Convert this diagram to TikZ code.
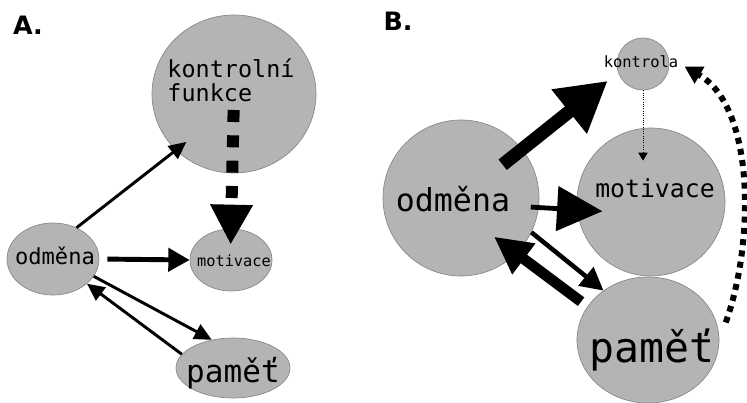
\documentclass[tikz,border=0pt]{standalone}
\usepackage{fontspec}
\setmonofont{DejaVu Sans Mono}
\setsansfont{DejaVu Sans}
\usepackage{tikz}
\usetikzlibrary{arrows.meta,calc,positioning,shapes.geometric}
\definecolor{blobgray}{RGB}{180,180,180}
\definecolor{blobedge}{RGB}{135,135,135}
\tikzset{
  blob/.style={ellipse,draw=blobedge,fill=blobgray,line width=0.5pt,inner sep=0pt},
  word/.style={inner sep=0pt,font=\ttfamily\fontsize{#1}{#1}\selectfont},
  panel/.style={inner sep=0pt,font=\sffamily\bfseries\fontsize{19}{22}\selectfont}
}

\begin{document}
\begin{tikzpicture}[x=0.75pt,y=-0.75pt]
\useasboundingbox (0,0) rectangle (747,403);

% A.
\node[panel] (labA) at (28,25) {A.};
\node[blob,minimum width=123pt,minimum height=118.5pt] (kfA) at (234,94) {};
\node[blob,minimum width=69pt,minimum height=54pt] (odA) at (53,259) {};
\node[blob,minimum width=61.5pt,minimum height=46.5pt] (movA) at (231,260) {};
\node[blob,minimum width=85.5pt,minimum height=45pt] (pamA) at (233,368) {};
\node[inner sep=0pt,align=left,font=\ttfamily\fontsize{17.6}{18}\selectfont] (kfAt) at (231,80) {kontrolní\\funkce};
\node[word=16.6] (odAt) at (55,256) {odměna};
\node[word=11.5] (movAt) at (234,261) {motivace};
\node[word=23.3] (pamAt) at (233,373) {paměť};

\draw[line width=2.2pt,-{Triangle[length=13pt,width=12pt]},shorten >=-10pt] (odA.53) -- (kfA.224);
\draw[line width=3.7pt,-{Triangle[length=16pt,width=17pt]},shorten <=6pt] (odA.east) -- (movA.west);
\draw[line width=9pt,dash pattern=on 9pt off 10pt,-{Triangle[length=30pt,width=30pt]},
      shorten <=12pt,shorten >=-12pt] (kfA.center) -- (movA.north);
\draw[line width=2.2pt,-{Triangle[length=13pt,width=12pt]}] (odA.-23) -- (pamA.127);
\draw[line width=2.2pt,-{Triangle[length=13pt,width=12pt]}] (pamA.165) -- (odA.-36);

% B.
\node[panel] (labB) at (398,21) {B.};
\node[blob,minimum size=39pt] (kon) at (643,64) {};
\node[blob,minimum size=111pt] (movB) at (651,202) {};
\node[blob,minimum size=117pt] (odB) at (461,198) {};
\node[blob,minimum width=106.5pt,minimum height=94.5pt] (pamB) at (648,340) {};
\node[word=11.6] (kont) at (641,62) {kontrola};
\node[word=18.6] (movBt) at (655,188) {motivace};
\node[word=23.7] (odBt) at (453,199) {odměna};
\node[word=31.1] (pamBt) at (652,350) {paměť};

\draw[line width=10pt,-{Triangle[length=37pt,width=40pt]},shorten <=40pt,shorten >=10pt] (odB.center) -- (kon.199);
\draw[line width=3.6pt,-{Triangle[length=34pt,width=33pt]},shorten <=-6pt,shorten >=-19pt] (odB.-7) -- (movB.186);
\draw[densely dotted,line width=0.7pt,-{Triangle[length=6pt,width=7pt]},shorten >=31pt] (kon.south) -- (kon.south |- movB.center);
\draw[line width=3.4pt,-{Triangle[length=17pt,width=17.5pt]}] (odB.-26) -- (pamB.132);
\draw[line width=8pt,-{Triangle[length=28pt,width=27pt]},shorten <=6pt,shorten >=-21pt] (pamB.151) -- (odB.-45);
\draw[line width=4.5pt,dash pattern=on 4.5pt off 4pt,-{Triangle[length=13pt,width=14pt]},
      shorten <=14pt,shorten >=14pt] (pamB.east) to[out=70,in=-30,looseness=0.9] (kon.15);
\end{tikzpicture}
\end{document}
